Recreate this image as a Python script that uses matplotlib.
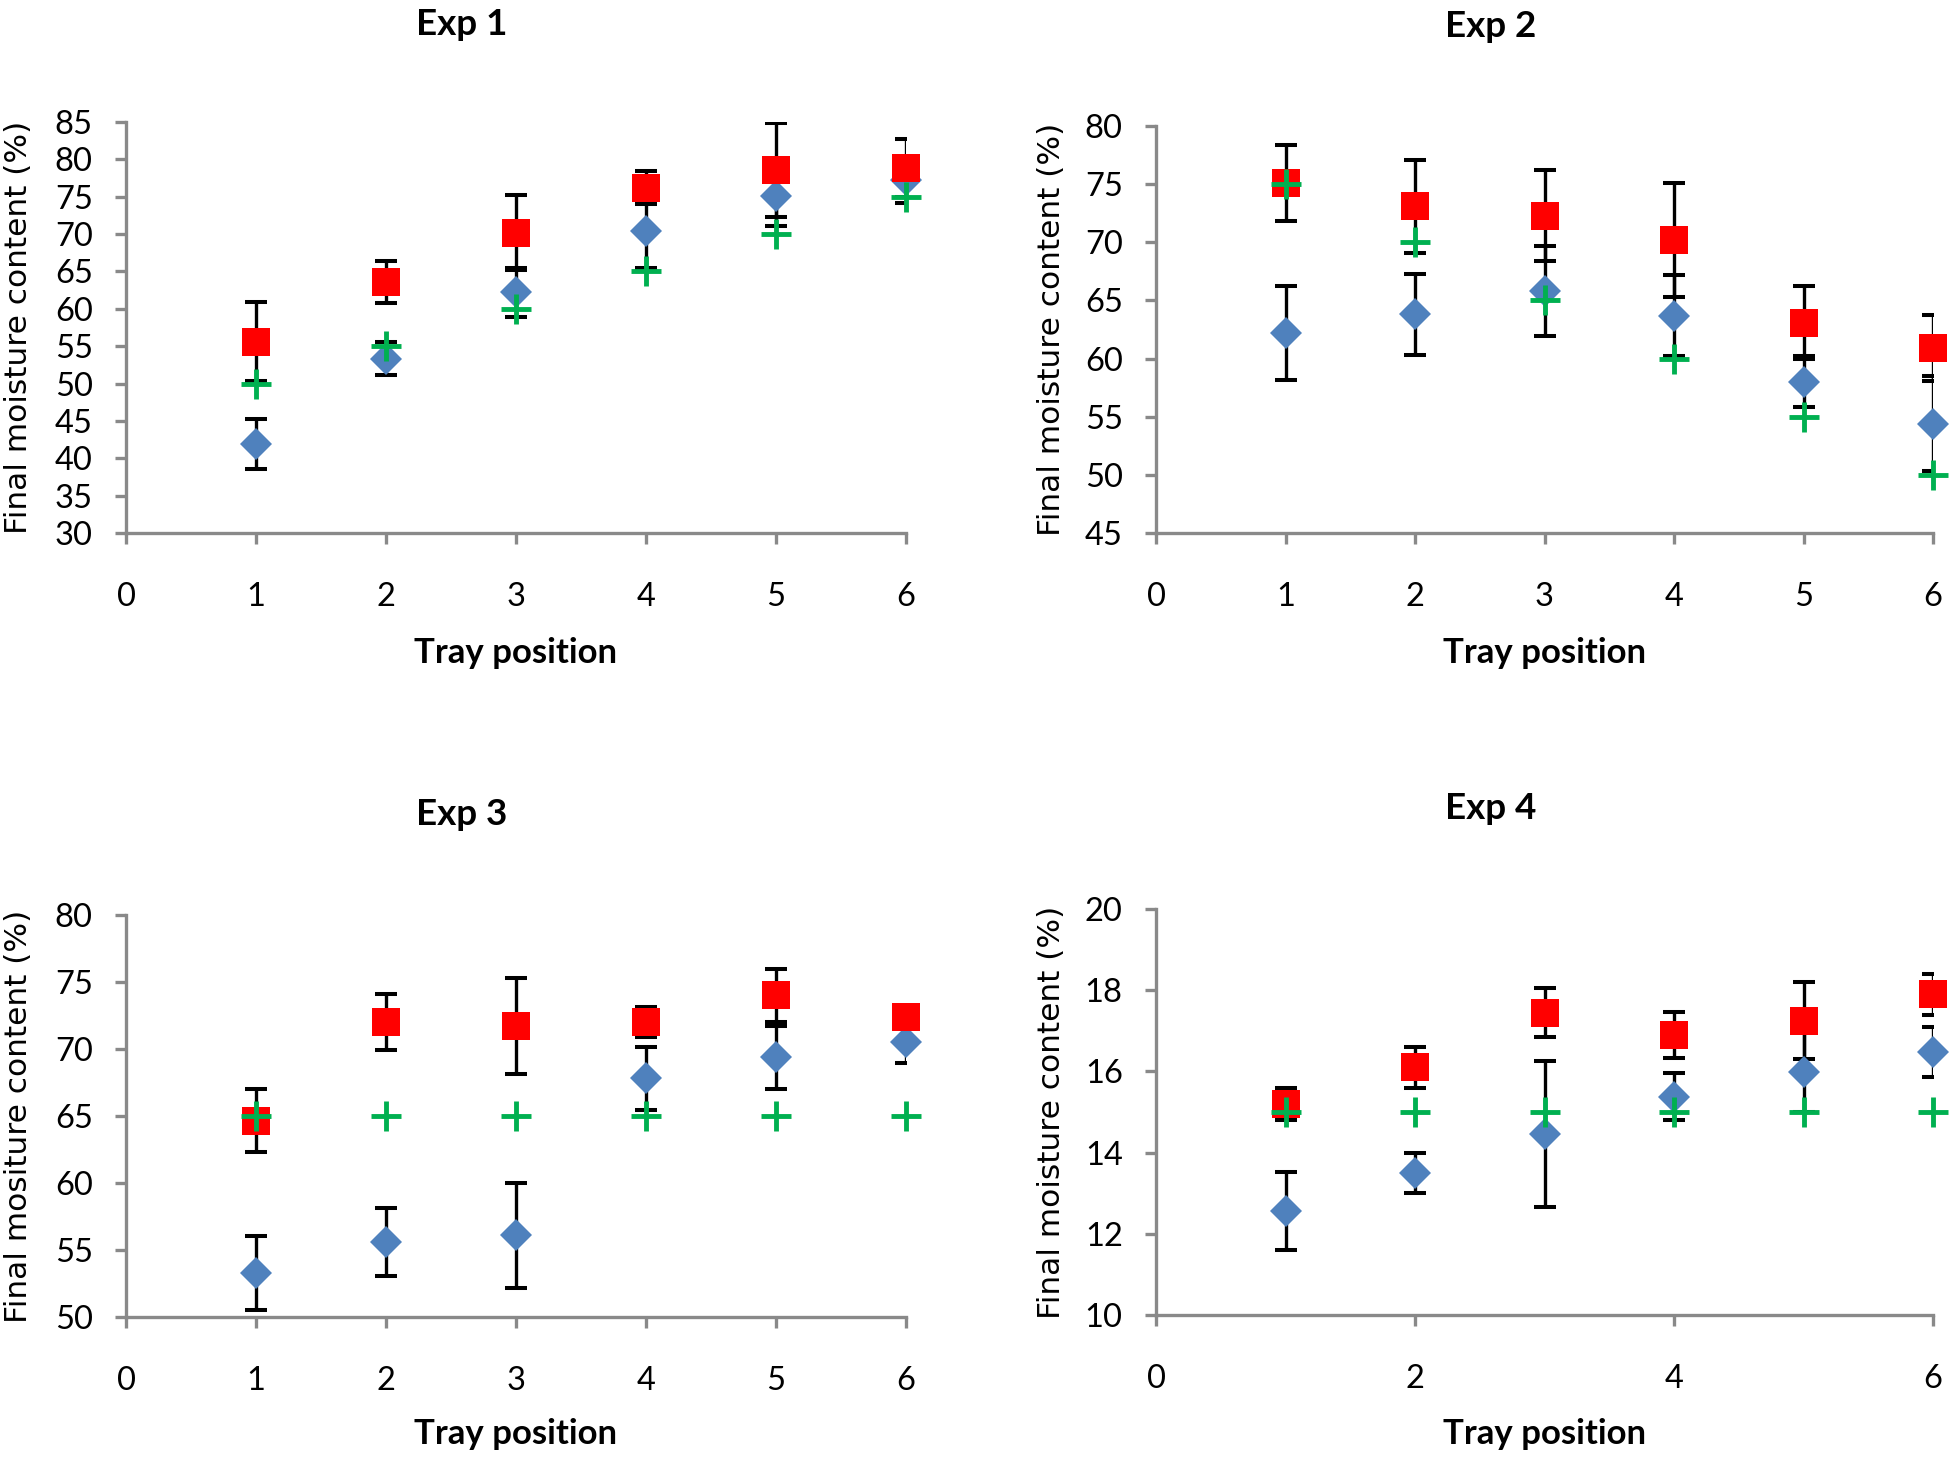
import numpy as np
import matplotlib
matplotlib.use('Agg')
from matplotlib import pyplot as plt

#%% data
tray = [1, 2, 3, 4, 5, 6]

exp1_blue = [41.9, 53.3, 62.2, 70.4, 75.1, 77.2]
exp1_blue_err = [3.3, 2.2, 3.3, 5.0, 4.0, 3.0]
exp1_red = [55.6, 63.6, 70.2, 76.2, 78.6, 78.8]
exp1_red_err = [5.3, 2.8, 5.0, 2.2, 6.3, 3.9]
exp1_green = [50, 55, 60, 65, 70, 75]

exp2_blue = [62.2, 63.8, 65.8, 63.7, 58.0, 54.4]
exp2_blue_err = [4.0, 3.45, 3.9, 3.5, 2.2, 4.1]
exp2_red = [75.1, 73.1, 72.3, 70.2, 63.1, 60.9]
exp2_red_err = [3.3, 4.0, 3.9, 4.9, 3.1, 2.85]
exp2_green = [75, 70, 65, 60, 55, 50]

exp3_blue = [53.3, 55.6, 56.1, 67.8, 69.4, 70.5]
exp3_blue_err = [2.75, 2.55, 3.9, 2.35, 2.35, 1.55]
exp3_red = [64.65, 72.0, 71.7, 72.0, 74.0, 72.4]
exp3_red_err = [2.35, 2.1, 3.6, 1.1, 1.95, 0.3]
exp3_green = [65, 65, 65, 65, 65, 65]

exp4_blue = [12.56, 13.5, 14.46, 15.38, 15.99, 16.48]
exp4_blue_err = [0.95, 0.5, 1.8, 0.57, 1.0, 0.62]
exp4_red = [15.2, 16.1, 17.45, 16.9, 17.25, 17.9]
exp4_red_err = [0.4, 0.5, 0.6, 0.57, 0.95, 0.5]
exp4_green = [15, 15, 15, 15, 15, 15]

titles = ['Exp 1', 'Exp 2', 'Exp 3', 'Exp 4']
ylabels = ['Final moisture content (%)', 'Final moisture content (%)',
           'Final mositure content (%)', 'Final moisture content (%)']
yticks = [np.arange(30, 86, 5), np.arange(45, 81, 5), np.arange(50, 81, 5), np.arange(10, 21, 2)]
xticks = [range(0, 7), range(0, 7), range(0, 7), range(0, 7, 2)]

#%% layout (pixels of the 1952x1457 figure)
W, H = 1952, 1457
boxes = [(126, 122, 906, 533), (1156, 126, 1933, 533),
         (126, 915, 906, 1317), (1156, 909, 1933, 1315)]   # left, top, right, bottom
title_pos = [(462, 35), (1491, 37), (462, 825), (1491, 819)]
xlab_pos = [(516, 663), (1545, 663), (516, 1444), (1545, 1444)]
ylab_x = [19, 1052, 19, 1052]

BLUE = '#4F81BD'
RED = '#FF0000'
GREEN = '#00B050'
AXC = '#898989'

fig = plt.figure(figsize=(W / 100, H / 100), dpi=100)

series = [(exp1_blue, exp1_blue_err, exp1_red, exp1_red_err, exp1_green),
          (exp2_blue, exp2_blue_err, exp2_red, exp2_red_err, exp2_green),
          (exp3_blue, exp3_blue_err, exp3_red, exp3_red_err, exp3_green),
          (exp4_blue, exp4_blue_err, exp4_red, exp4_red_err, exp4_green)]

for i in range(4):
    l, t, r, b = boxes[i]
    ax = fig.add_axes([l / W, 1 - b / H, (r - l) / W, (b - t) / H])
    blue, blue_err, red, red_err, green = series[i]

    for vals, errs, col, mk, ms in [(blue, blue_err, BLUE, 'D', 16.5), (red, red_err, RED, 's', 20)]:
        ax.errorbar(tray, vals, yerr=errs, fmt='none', ecolor='black', elinewidth=2.4,
                    capsize=7.9, capthick=2.9, zorder=2)
        ax.plot(tray, vals, linestyle='none', marker=mk, markersize=ms, color=col,
                markeredgewidth=0, clip_on=False, zorder=3)
    ax.plot(tray, green, linestyle='none', marker='+', markersize=21.6, markeredgewidth=3.5,
            color=GREEN, clip_on=False, zorder=4)

    ax.set_xlim(0, 6)
    ax.set_ylim(yticks[i][0], yticks[i][-1])
    ax.set_xticks(list(xticks[i]))
    ax.set_yticks(yticks[i])
    for s in ['top', 'right']:
        ax.spines[s].set_visible(False)
    for s in ['left', 'bottom']:
        ax.spines[s].set_color(AXC)
        ax.spines[s].set_linewidth(2.4)
        ax.spines[s].set_zorder(1)
    ax.tick_params(axis='both', direction='out', length=8, width=2.4, color=AXC,
                   labelsize=23.5, labelcolor='black')
    ax.tick_params(axis='x', pad=27)
    ax.tick_params(axis='y', pad=16)
    for lab in ax.get_xticklabels() + ax.get_yticklabels():
        lab.set_family('Lato')

    fig.text(title_pos[i][0] / W, 1 - title_pos[i][1] / H, titles[i], ha='center',
             va='baseline', fontsize=26.5, fontweight='bold', family='Lato')
    fig.text(xlab_pos[i][0] / W, 1 - xlab_pos[i][1] / H, 'Tray position', ha='center',
             va='baseline', fontsize=25, fontweight='bold', family='Lato')
    fig.text(ylab_x[i] / W, 1 - (t + b) / 2 / H, ylabels[i], rotation=90, ha='center',
             va='center', fontsize=22.5, family='DejaVu Sans')

fig.savefig('out.png', dpi=100)
